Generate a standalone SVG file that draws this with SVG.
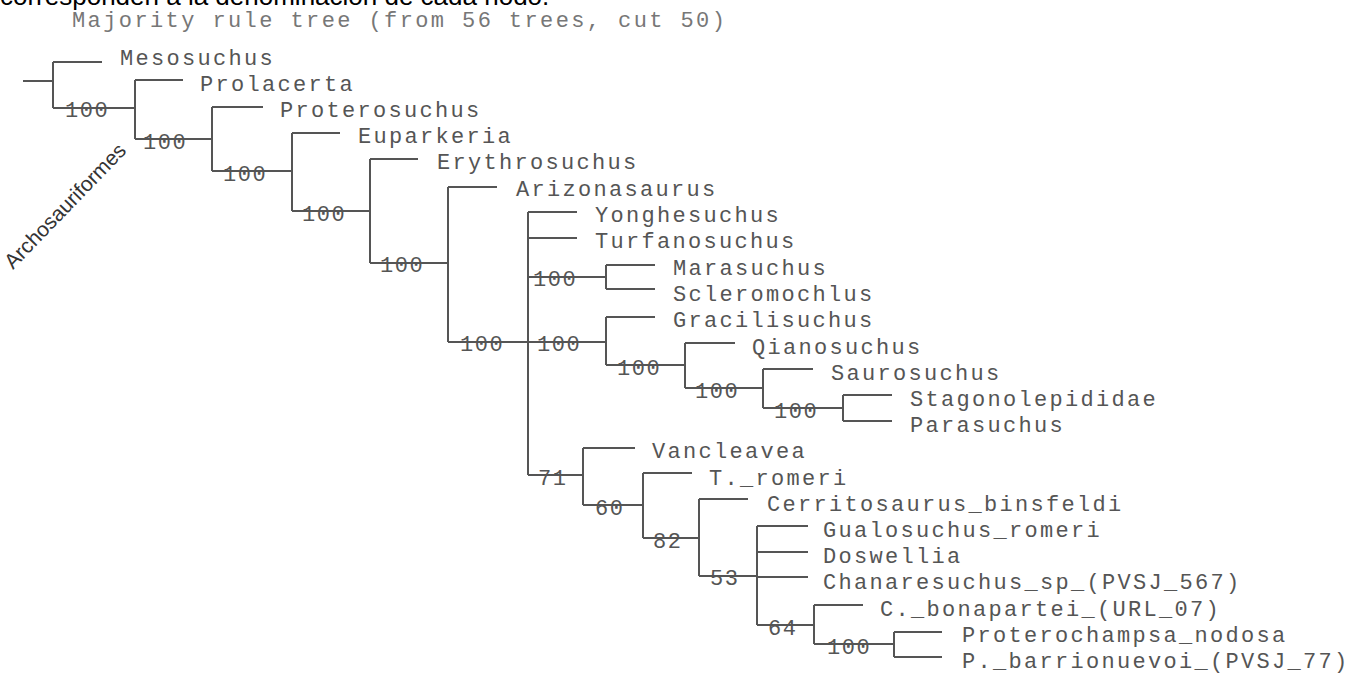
<svg xmlns="http://www.w3.org/2000/svg" width="1365" height="673" viewBox="0 0 1365 673">
<style>
.t{font-family:"Liberation Mono","Courier New",monospace;font-size:22px;fill:#555;letter-spacing:2.3px}
.s{font-family:"Liberation Mono","Courier New",monospace;font-size:22px;fill:#555;letter-spacing:1.5px}
.ln{stroke:#555;stroke-width:2;fill:none}
</style>
<rect width="1365" height="673" fill="#fff"/>
<text x="0" y="5" font-family="Liberation Sans, Arial, sans-serif" font-size="26" fill="#000">corresponden a la denominación de cada nodo.</text>
<text class="t" x="72" y="27" style="fill:#777;letter-spacing:2.4px">Majority rule tree (from 56 trees, cut 50)</text>
<text transform="translate(13,270) rotate(-46)" font-family="Liberation Sans, Arial, sans-serif" font-size="21" fill="#333">Archosauriformes</text>
<g id="connectors" class="ln">
<path d="M23,81H53M53,62V108M53,62H102M53,108H135"/>
<path d="M135,80V139M135,80H183M135,139H212"/>
<path d="M212,107V171M212,107H263M212,171H292"/>
<path d="M292,133V211M292,133H340M292,211H370"/>
<path d="M370,159V263M370,159H418M370,263H448"/>
<path d="M448,187V342M448,187H497M448,342H528"/>
<path d="M528,212V475M528,212H577M528,238H577M528,277H606M528,342H606M528,475H583"/>
<path d="M606,265V289M606,265H655M606,289H655"/>
<path d="M606,317V365M606,317H655M606,365H685"/>
<path d="M685,343V388M685,343H735M685,388H763"/>
<path d="M763,369V408M763,369H813M763,408H843"/>
<path d="M843,395V421M843,395H892M843,421H892"/>
<path d="M583,448V505M583,448H635M583,505H643"/>
<path d="M643,473V538M643,473H692M643,538H699"/>
<path d="M699,499V576M699,499H748M699,576H757"/>
<path d="M757,526V625M757,526H808M757,552H808M757,577H808M757,625H814"/>
<path d="M814,605V644M814,605H863M814,644H894"/>
<path d="M894,632V657M894,632H942M894,657H942"/>
</g>
<g id="n-root"><text class="s" x="65" y="117">100</text></g>
<g id="n-a"><text class="s" x="143" y="149">100</text></g>
<g id="n-b"><text class="s" x="223" y="181">100</text></g>
<g id="n-c"><text class="s" x="302" y="221">100</text></g>
<g id="n-d"><text class="s" x="380" y="272">100</text></g>
<g id="n-e"><text class="s" x="460" y="351">100</text></g>
<g id="n-g"><text class="s" x="533" y="286">100</text></g>
<g id="n-h"><text class="s" x="537" y="351">100</text></g>
<g id="n-i"><text class="s" x="617" y="375">100</text></g>
<g id="n-j"><text class="s" x="695" y="398">100</text></g>
<g id="n-k"><text class="s" x="774" y="418">100</text></g>
<g id="n-l"><text class="s" x="538" y="485">71</text></g>
<g id="n-m"><text class="s" x="595" y="515">60</text></g>
<g id="n-n"><text class="s" x="653" y="548">82</text></g>
<g id="n-o"><text class="s" x="710" y="585">53</text></g>
<g id="n-p"><text class="s" x="768" y="635">64</text></g>
<g id="n-q"><text class="s" x="827" y="654">100</text></g>
<g id="leaf-mesosuchus"><text class="t" x="120" y="65">Mesosuchus</text></g>
<g id="leaf-prolacerta"><text class="t" x="200" y="91">Prolacerta</text></g>
<g id="leaf-proterosuchus"><text class="t" x="280" y="117">Proterosuchus</text></g>
<g id="leaf-euparkeria"><text class="t" x="358" y="143">Euparkeria</text></g>
<g id="leaf-erythrosuchus"><text class="t" x="437" y="169">Erythrosuchus</text></g>
<g id="leaf-arizonasaurus"><text class="t" x="516" y="196">Arizonasaurus</text></g>
<g id="leaf-yonghesuchus"><text class="t" x="595" y="222">Yonghesuchus</text></g>
<g id="leaf-turfanosuchus"><text class="t" x="595" y="248">Turfanosuchus</text></g>
<g id="leaf-marasuchus"><text class="t" x="673" y="275">Marasuchus</text></g>
<g id="leaf-scleromochlus"><text class="t" x="673" y="301">Scleromochlus</text></g>
<g id="leaf-gracilisuchus"><text class="t" x="673" y="327">Gracilisuchus</text></g>
<g id="leaf-qianosuchus"><text class="t" x="752" y="354">Qianosuchus</text></g>
<g id="leaf-saurosuchus"><text class="t" x="831" y="380">Saurosuchus</text></g>
<g id="leaf-stagonolepididae"><text class="t" x="910" y="406">Stagonolepididae</text></g>
<g id="leaf-parasuchus"><text class="t" x="910" y="432">Parasuchus</text></g>
<g id="leaf-vancleavea"><text class="t" x="652" y="458">Vancleavea</text></g>
<g id="leaf-t-romeri"><text class="t" x="709" y="485">T._romeri</text></g>
<g id="leaf-cerritosaurus"><text class="t" x="767" y="511">Cerritosaurus_binsfeldi</text></g>
<g id="leaf-gualosuchus"><text class="t" x="823" y="537">Gualosuchus_romeri</text></g>
<g id="leaf-doswellia"><text class="t" x="823" y="563">Doswellia</text></g>
<g id="leaf-chanaresuchus"><text class="t" x="823" y="589">Chanaresuchus_sp_(PVSJ_567)</text></g>
<g id="leaf-c-bonapartei"><text class="t" x="880" y="616">C._bonapartei_(URL_07)</text></g>
<g id="leaf-proterochampsa"><text class="t" x="962" y="642">Proterochampsa_nodosa</text></g>
<g id="leaf-p-barrionuevoi"><text class="t" x="962" y="668">P._barrionuevoi_(PVSJ_77)</text></g>
</svg>
